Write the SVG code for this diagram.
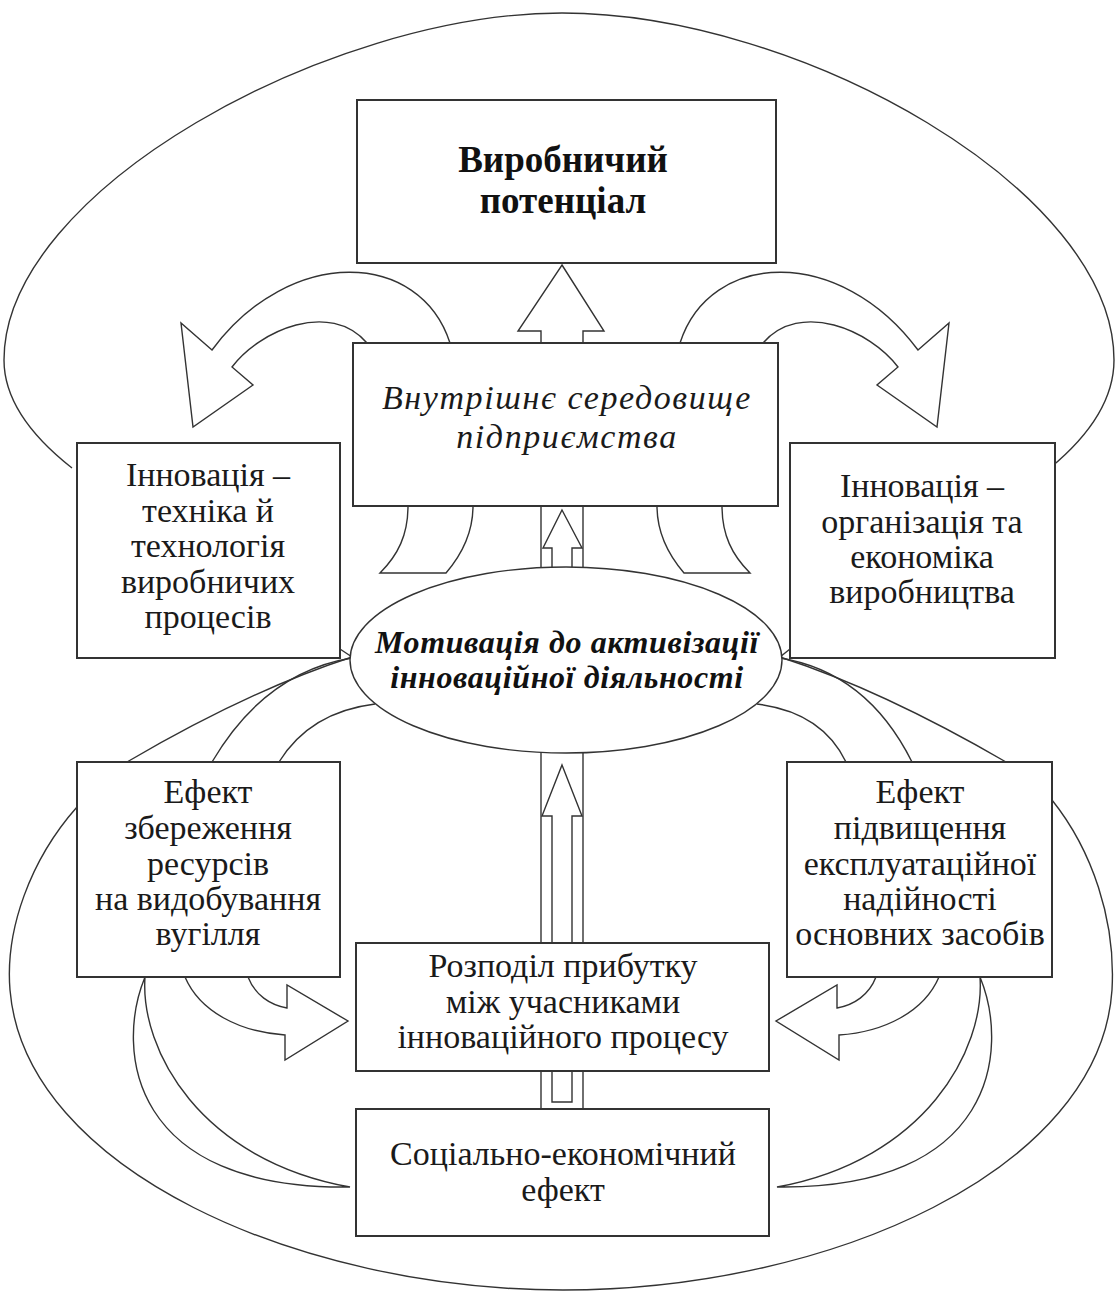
<svg xmlns="http://www.w3.org/2000/svg" width="1118" height="1291" viewBox="0 0 1118 1291">
<style>
.box{fill:#fff;stroke:#333;stroke-width:2}
.ln{fill:none;stroke:#333;stroke-width:1.4}
.blk{fill:#fff;stroke:#333;stroke-width:1.4;stroke-linejoin:miter}
.t{font-family:"Liberation Serif","Times New Roman",serif;font-size:34px;fill:#1a1a1a;text-anchor:middle}
.ti{font-family:"Liberation Serif","Times New Roman",serif;font-size:34px;font-style:italic;fill:#1a1a1a;text-anchor:middle;letter-spacing:1.6px}
.tb{font-family:"Liberation Serif","Times New Roman",serif;font-size:37px;font-weight:bold;fill:#111;text-anchor:middle}
.tbi{font-family:"Liberation Serif","Times New Roman",serif;font-size:32px;font-weight:bold;font-style:italic;fill:#111;text-anchor:middle;letter-spacing:0.6px}
</style>
<rect width="1118" height="1291" fill="#fff"/>
<g id="connectors">
  <!-- outer loops -->
  <path class="ln" d="M 72 468 C 30 435 4 400 4 360 C 4 190 330 13 562 13 C 800 13 1114 190 1114 360 C 1114 400 1090 435 1050 468"/>
  <path class="ln" d="M 77 807 C 30 860 5 930 10 990 C 25 1170 300 1290 563 1290 C 830 1290 1100 1170 1112 990 C 1116 920 1092 850 1052 800"/>
  <!-- upper block arrows -->
  <path class="blk" d="M 450 343 C 420 250 290 245 212 350 L 181 323 L 193 427 L 253 385 L 232 367 C 260 330 330 300 367 343 Z"/>
  <path class="blk" d="M 680 343 C 710 250 840 245 918 350 L 949 323 L 937 427 L 877 385 L 898 367 C 870 330 800 300 763 343 Z"/>
  <path class="blk" d="M 408 506 C 408 535 398 555 380 573 L 446 573 C 464 552 473 530 473 506 Z"/>
  <path class="blk" d="M 722 506 C 722 535 732 555 750 573 L 684 573 C 666 552 657 530 657 506 Z"/>
  <!-- up arrow to top box -->
  <polygon class="blk" points="562,265 604,331 583,331 583,343 541,343 541,331 518,331"/>
  <!-- channel below middle box -->
  <line class="ln" x1="541" y1="506" x2="541" y2="572"/>
  <line class="ln" x1="583" y1="506" x2="583" y2="572"/>
  <polygon class="blk" points="562,510 582,548 572,548 572,572 552,572 552,548 543,548"/>
  <!-- channel below ellipse -->
  <line class="ln" x1="541" y1="745" x2="541" y2="943"/>
  <line class="ln" x1="583" y1="745" x2="583" y2="943"/>
  <polygon class="blk" points="562,765 582,816 572,816 572,943 552,943 552,816 542,816"/>
  <!-- channel between distribution and social effect -->
  <line class="ln" x1="541" y1="1071" x2="541" y2="1109"/>
  <line class="ln" x1="583" y1="1071" x2="583" y2="1109"/>
  <path class="ln" d="M 552 1071 L 552 1102 L 572 1102 L 572 1071"/>
  <!-- ellipse to lower boxes -->
  <path class="ln" d="M 352 657 Q 250 690 127 762"/>
  <path class="ln" d="M 352 658 Q 265 672 212 762"/>
  <path class="ln" d="M 375 704 Q 310 712 279 762"/>
  <path class="ln" d="M 340 649 L 352 657"/>
  <path class="ln" d="M 780 657 Q 882 690 1006 762"/>
  <path class="ln" d="M 780 658 Q 867 672 912 762"/>
  <path class="ln" d="M 757 704 Q 822 712 846 762"/>
  <path class="ln" d="M 790 649 L 780 657"/>
  <!-- lower block arrows to distribution -->
  <path class="blk" d="M 185 977 C 200 1012 240 1032 285 1035 L 285 1060 L 348 1021 L 287 985 L 287 1008 C 270 1005 255 995 248 977 Z"/>
  <path class="blk" d="M 939 977 C 924 1012 884 1032 839 1035 L 839 1060 L 776 1021 L 837 985 L 837 1008 C 854 1005 869 995 876 977 Z"/>
  <!-- crescents to social effect -->
  <path class="ln" d="M 145 977 C 115 1050 130 1190 350 1187 C 200 1160 140 1050 145 977 Z"/>
  <path class="ln" d="M 980 977 C 1010 1050 995 1190 777 1187 C 925 1160 985 1050 980 977 Z"/>
</g>
<g id="node-potential">
  <rect class="box" x="357" y="100" width="419" height="163"/>
  <text class="tb" x="563" y="172">Виробничий</text>
  <text class="tb" x="563" y="213">потенціал</text>
</g>
<g id="node-internal">
  <rect class="box" x="353" y="343" width="425" height="163"/>
  <text class="ti" x="567" y="409">Внутрішнє середовище</text>
  <text class="ti" x="567" y="448">підприємства</text>
</g>
<g id="node-innov-tech">
  <rect class="box" x="77" y="443" width="263" height="215"/>
  <text class="t" x="208" y="486">Інновація –</text>
  <text class="t" x="208" y="522">техніка й</text>
  <text class="t" x="208" y="557">технологія</text>
  <text class="t" x="208" y="593">виробничих</text>
  <text class="t" x="208" y="628">процесів</text>
</g>
<g id="node-innov-org">
  <rect class="box" x="790" y="443" width="265" height="215"/>
  <text class="t" x="922" y="497">Інновація –</text>
  <text class="t" x="922" y="533">організація та</text>
  <text class="t" x="922" y="568">економіка</text>
  <text class="t" x="922" y="603">виробництва</text>
</g>
<g id="node-motivation">
  <ellipse class="box" cx="566" cy="660" rx="216" ry="93" style="stroke-width:1.4"/>
  <text class="tbi" x="567" y="653">Мотивація до активізації</text>
  <text class="tbi" x="567" y="688">інноваційної діяльності</text>
</g>
<g id="node-effect-save">
  <rect class="box" x="77" y="762" width="263" height="215"/>
  <text class="t" x="208" y="803">Ефект</text>
  <text class="t" x="208" y="839">збереження</text>
  <text class="t" x="208" y="875">ресурсів</text>
  <text class="t" x="208" y="910">на видобування</text>
  <text class="t" x="208" y="945">вугілля</text>
</g>
<g id="node-effect-reliab">
  <rect class="box" x="787" y="762" width="265" height="215"/>
  <text class="t" x="920" y="803">Ефект</text>
  <text class="t" x="920" y="839">підвищення</text>
  <text class="t" x="920" y="875">експлуатаційної</text>
  <text class="t" x="920" y="910">надійності</text>
  <text class="t" x="920" y="945">основних засобів</text>
</g>
<g id="node-distribution">
  <rect class="box" x="356" y="943" width="413" height="128"/>
  <text class="t" x="563" y="977">Розподіл прибутку</text>
  <text class="t" x="563" y="1013">між учасниками</text>
  <text class="t" x="563" y="1048">інноваційного процесу</text>
</g>
<g id="node-social">
  <rect class="box" x="356" y="1109" width="413" height="127"/>
  <text class="t" x="563" y="1165">Соціально-економічний</text>
  <text class="t" x="563" y="1201">ефект</text>
</g>
</svg>
